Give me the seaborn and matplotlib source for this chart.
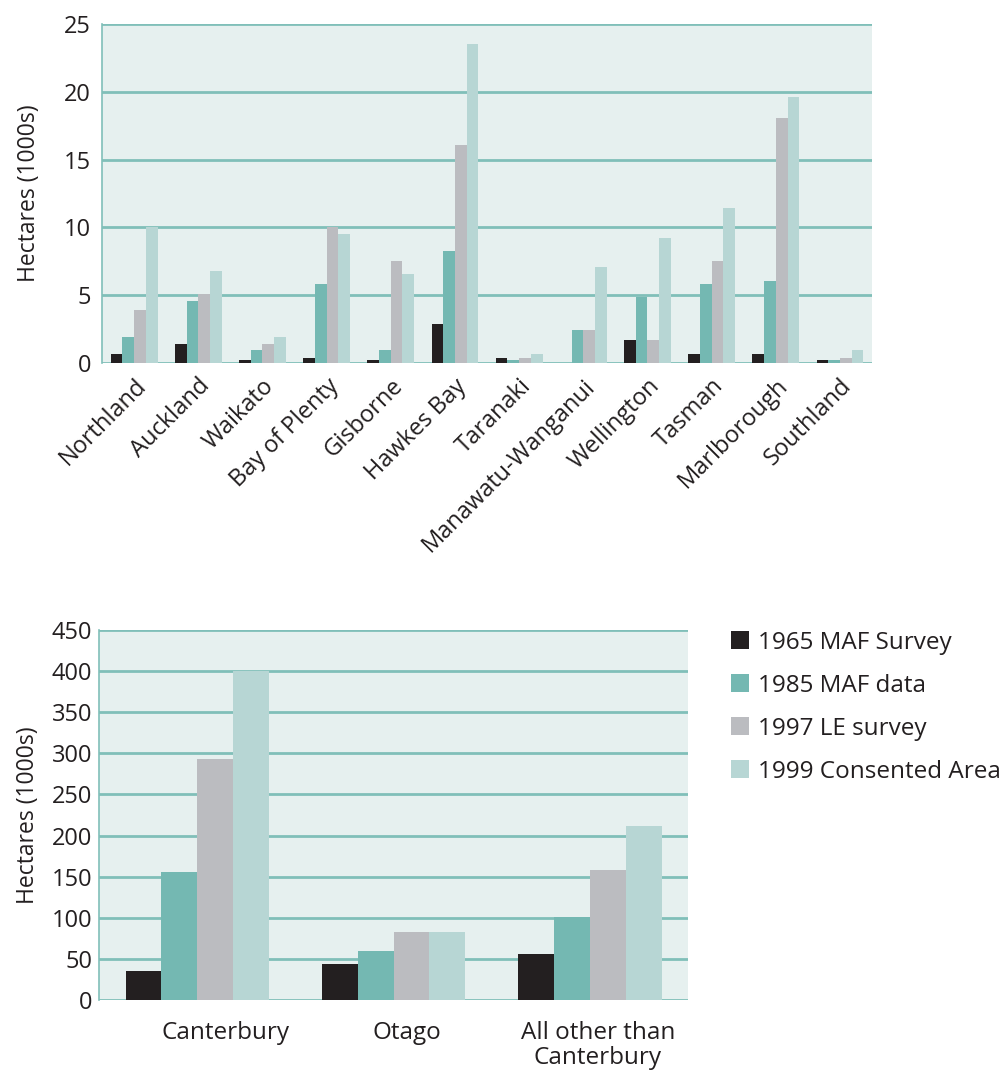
import pandas as pd
import seaborn as sns
import matplotlib.pyplot as plt
from matplotlib.transforms import ScaledTranslation

# datos (miles de hectareas)
series = ['1965 MAF Survey', '1985 MAF data', '1997 LE survey', '1999 Consented Area']
colores = ['#231f20', '#74b8b2', '#bbbcc0', '#b7d6d4']

regiones = ['Northland', 'Auckland', 'Waikato', 'Bay of Plenty', 'Gisborne', 'Hawkes Bay',
            'Taranaki', 'Manawatu-Wanganui', 'Wellington', 'Tasman', 'Marlborough', 'Southland']
r1965 = [0.65, 1.4, 0.2, 0.4, 0.2, 2.85, 0.4, 0.0, 1.7, 0.65, 0.65, 0.2]
r1985 = [1.9, 4.6, 0.95, 5.8, 0.95, 8.25, 0.2, 2.4, 4.85, 5.8, 6.05, 0.2]
r1997 = [3.9, 5.1, 1.4, 10.0, 7.5, 16.1, 0.4, 2.4, 1.7, 7.5, 18.1, 0.4]
r1999 = [10.0, 6.8, 1.9, 9.5, 6.55, 23.5, 0.65, 7.1, 9.2, 11.4, 19.6, 0.95]

zonas = ['Canterbury', 'Otago', 'All other than\nCanterbury']
z1965 = [35, 44, 56]
z1985 = [156, 60, 101]
z1997 = [293, 83, 158]
z1999 = [400, 83, 212]

def a_largo(cats, valores):
    filas = []
    for s, vals in zip(series, valores):
        for c, v in zip(cats, vals):
            filas.append({'cat': c, 'serie': s, 'valor': v})
    return pd.DataFrame(filas)

df_top = a_largo(regiones, [r1965, r1985, r1997, r1999])
df_bot = a_largo(zonas, [z1965, z1985, z1997, z1999])

plt.rcParams['font.family'] = ['Open Sans', 'DejaVu Sans']
fondo = '#e6f0ef'
linea = '#80bfb9'
texto = '#231f20'

fig = plt.figure(figsize=(10.04, 10.70), dpi=100)
ax1 = fig.add_axes([0.1016, 0.6607, 0.767, 0.3169])
ax2 = fig.add_axes([0.0986, 0.0654, 0.5867, 0.3458])

def estilo(ax, ymax, paso, pad):
    ax.set_facecolor(fondo)
    ax.set_ylim(0, ymax)
    ax.set_yticks(range(0, ymax + 1, paso))
    ax.grid(axis='y', color=linea, linewidth=2)
    ax.set_axisbelow(True)
    for lado in ['top', 'right', 'bottom']:
        ax.spines[lado].set_visible(False)
    ax.spines['left'].set_color(linea)
    ax.spines['left'].set_linewidth(1.2)
    ax.tick_params(axis='both', length=0, labelsize=17, colors=texto)
    ax.tick_params(axis='y', pad=pad)
    ax.set_ylabel('Hectares (1000s)', fontsize=16.5, color=texto)
    ax.set_xlabel('')

sns.barplot(data=df_top, x='cat', y='valor', hue='serie', palette=colores,
            width=0.73, saturation=1, ax=ax1, legend=False)
estilo(ax1, 25, 5, 8)
ax1.set_xlim(-0.5, 11.5)
ax1.set_xticks(range(len(regiones)))
ax1.set_xticklabels(regiones, rotation=45, ha='right', rotation_mode='anchor', fontsize=17)
ax1.tick_params(axis='x', pad=8)
ax1.yaxis.labelpad = 16.5

sns.barplot(data=df_bot, x='cat', y='valor', hue='serie', palette=colores,
            width=0.73, saturation=1, ax=ax2)
estilo(ax2, 450, 50, 5)
ax2.set_xlim(-0.5, 2.5)
ax2.tick_params(axis='x', pad=15, labelsize=17.5)
ax2.yaxis.labelpad = 8
# en el original las etiquetas quedan algo a la derecha de cada grupo
desplaz = [28, 13, 8]
for t, dx in zip(ax2.get_xticklabels(), desplaz):
    t.set_linespacing(1.05)
    t.set_transform(t.get_transform() + ScaledTranslation(dx / 100, 0, fig.dpi_scale_trans))

handles, labels = ax2.get_legend_handles_labels()
ax2.get_legend().remove()
fig.legend(handles, labels, loc='upper left', bbox_to_anchor=(0.706, 0.431),
           frameon=False, fontsize=17.5, handlelength=0.74, handleheight=0.74,
           handletextpad=0.4, labelspacing=0.78, labelcolor=texto)

fig.savefig('out.png', dpi=100)
